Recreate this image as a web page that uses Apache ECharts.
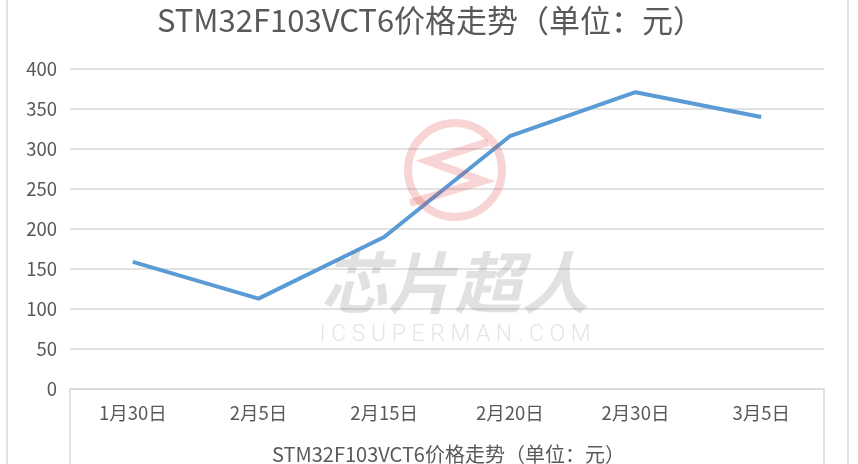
<!DOCTYPE html>
<html>
<head>
<meta charset="utf-8">
<script src="https://cdn.jsdelivr.net/npm/echarts@6/dist/echarts.min.js"></script>
<style>html,body{margin:0;padding:0;background:#fff}#c{width:858px;height:464px}</style>
</head>
<body>
<div id="c"></div>
<script>
const titleText = 'STM32F103VCT6价格走势（单位：元）';
const seriesName = 'STM32F103VCT6价格走势（单位：元）';
const categories = ['1月30日', '2月5日', '2月15日', '2月20日', '2月30日', '3月5日'];
const prices = [159, 113, 190, 316, 371, 340];
const yTicks = { min: 0, max: 400, interval: 50 };

const chart = echarts.init(document.getElementById('c'));
const FONT = '"Noto Sans CJK SC", "Noto Sans", sans-serif';
const gray = '#d9d9d9';
chart.setOption({
  backgroundColor: '#fff',
  animation: false,
  title: {
    text: titleText, left: 152, top: 0,
    textStyle: { color: '#595959', fontSize: 31, fontWeight: 'normal', fontFamily: FONT }
  },
  legend: {
    data: [seriesName], left: 262, top: 439, icon: 'none', itemWidth: 0, itemGap: 0,
    textStyle: { color: '#595959', fontSize: 20, fontFamily: FONT }
  },
  grid: { left: 70, right: 34, top: 69, bottom: 75 },
  xAxis: {
    type: 'category', data: categories, boundaryGap: true,
    axisLine: { lineStyle: { color: gray, width: 1.5 } },
    axisTick: { show: false },
    axisLabel: { color: '#595959', fontSize: 18.5, margin: 15, fontFamily: FONT }
  },
  yAxis: {
    type: 'value', min: yTicks.min, max: yTicks.max, interval: yTicks.interval,
    axisLine: { show: false }, axisTick: { show: false },
    axisLabel: { color: '#595959', fontSize: 18.5, margin: 13, fontFamily: FONT },
    splitLine: { lineStyle: { color: gray, width: 1.5 } }
  },
  series: [{
    name: seriesName, type: 'line', data: prices, symbol: 'none',
    lineStyle: { color: '#5b9bd5', width: 4 }, itemStyle: { color: '#5b9bd5' }
  }],
  graphic: [
    { type: 'line', shape: { x1: 7, y1: 0, x2: 7, y2: 464 }, style: { stroke: gray, lineWidth: 1.5 } },
    { type: 'line', shape: { x1: 848, y1: 0, x2: 848, y2: 464 }, style: { stroke: gray, lineWidth: 1.5 } },
    { type: 'line', shape: { x1: 70, y1: 389, x2: 70, y2: 464 }, style: { stroke: gray, lineWidth: 1.5 } },
    { type: 'line', shape: { x1: 824, y1: 389, x2: 824, y2: 464 }, style: { stroke: gray, lineWidth: 1.5 } },
    { type: 'circle', z: 100, shape: { cx: 455, cy: 170, r: 47 }, style: { fill: 'none', stroke: 'rgba(225,60,60,0.22)', lineWidth: 8 } },
    { type: 'polyline', z: 100, shape: { points: [[488, 142], [428, 161], [483, 181], [410, 203]] }, style: { fill: 'none', stroke: 'rgba(225,60,60,0.22)', lineWidth: 8, lineJoin: 'miter' } },
    { type: 'text', z: 100, style: { text: '芯片超人', x: 455, y: 283, align: 'center', verticalAlign: 'middle', fill: 'rgba(120,120,120,0.22)', font: 'italic bold 67px "Noto Sans CJK SC", sans-serif' } },
    { type: 'text', z: 100, style: { text: 'I C S U P E R M A N . C O M', x: 455, y: 335, align: 'center', verticalAlign: 'middle', fill: 'rgba(120,120,120,0.2)', font: '300 23px Roboto, sans-serif' } }
  ]
});
</script>
</body>
</html>
